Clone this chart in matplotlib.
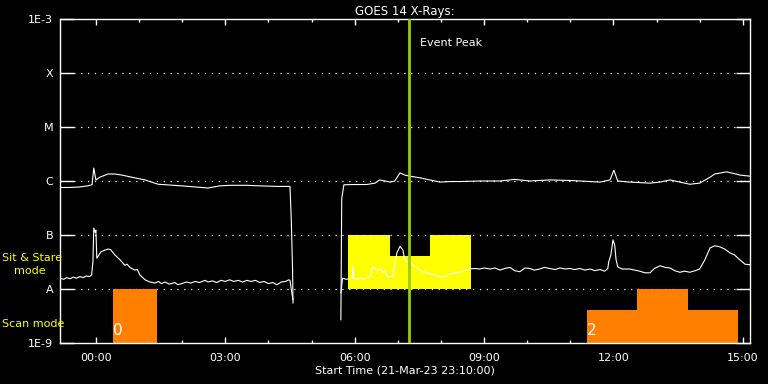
import numpy as np
import matplotlib.pyplot as plt

# hours since 00:00 (start is 23:10 the day before), log10 flux W/m^2
t_long = [-0.83, -0.6, -0.37, -0.19, -0.09, -0.05, 0.0, 0.09, 0.28, 0.44, 0.6, 0.83, 1.14, 1.44,
          1.99, 2.3, 2.6, 2.87, 3.11, 3.5, 3.8, 4.2, 4.5, 4.53, 4.56, 4.57,
          np.nan,
          5.68, 5.70, 5.75, 6.0, 6.28, 6.47, 6.58, 6.82, 6.93, 7.05, 7.16, 7.28, 7.51, 7.74,
          7.98, 8.21, 8.44, 8.9, 9.37, 9.71, 10.06, 10.53, 10.99, 11.69, 11.92, 12.01, 12.10,
          12.38, 12.85, 13.08, 13.31, 13.54, 13.77, 14.0, 14.24, 14.35, 14.63, 14.93, 15.16]
f_long = [-6.12, -6.12, -6.11, -6.09, -6.07, -5.76, -5.98, -5.93, -5.87, -5.87, -5.89, -5.93, -5.98, -6.06,
          -6.09, -6.11, -6.13, -6.09, -6.08, -6.08, -6.09, -6.10, -6.10, -6.72, -7.65, -8.26,
          np.nan,
          -8.57, -6.32, -6.07, -6.065, -6.065, -6.04, -5.98, -6.02, -6.0, -5.85, -5.89, -5.91, -5.94, -5.98,
          -6.02, -6.01, -6.01, -6.0, -6.0, -5.97, -6.0, -5.98, -5.99, -6.02, -5.98, -5.80, -6.0,
          -6.02, -6.04, -6.02, -5.98, -6.02, -6.06, -6.04, -5.93, -5.87, -5.83, -5.89, -5.91]

t_short = [-0.83, -0.75, -0.68, -0.6, -0.52, -0.45, -0.37, -0.3, -0.22, -0.15, -0.1, -0.07, -0.05, -0.02,
           0.0, 0.02, 0.06, 0.12, 0.21, 0.28, 0.34, 0.44, 0.56, 0.67, 0.72, 0.79, 0.9, 0.96, 1.02,
           1.14, 1.25, 1.37, 1.45, 1.52, 1.6, 1.7, 1.83, 1.9, 1.99, 2.1, 2.2, 2.3, 2.4, 2.53, 2.6,
           2.7, 2.8, 2.9, 3.0, 3.1, 3.2, 3.3, 3.4, 3.5, 3.6, 3.7, 3.8, 3.9, 4.0, 4.1, 4.2, 4.3, 4.4,
           4.47, 4.5, 4.54, 4.57,
           np.nan,
           5.68, 5.72, 5.8, 5.89, 5.94, 5.96, 5.98, 6.05, 6.12, 6.2, 6.28, 6.35, 6.42, 6.5, 6.54,
           6.6, 6.65, 6.7, 6.77, 6.85, 6.89, 6.95, 6.98, 7.05, 7.12, 7.16, 7.22, 7.28, 7.34, 7.40,
           7.51, 7.62, 7.74, 7.86, 7.98, 8.1, 8.21, 8.33, 8.44, 8.55, 8.67, 8.78, 8.9, 9.0, 9.14,
           9.25, 9.37, 9.48, 9.6, 9.71, 9.83, 9.95, 10.06, 10.17, 10.29, 10.4, 10.53, 10.65, 10.76,
           10.88, 10.99, 11.1, 11.22, 11.34, 11.46, 11.57, 11.69, 11.8, 11.87, 11.89, 11.94, 11.99,
           12.03, 12.06, 12.10, 12.2, 12.38, 12.5, 12.61, 12.73, 12.85, 12.95, 13.08, 13.2, 13.31,
           13.42, 13.54, 13.65, 13.77, 13.9, 14.0, 14.12, 14.24, 14.35, 14.47, 14.58, 14.7, 14.81,
           14.93, 15.05, 15.16]
f_short = [-7.80, -7.82, -7.79, -7.81, -7.78, -7.80, -7.77, -7.79, -7.76, -7.77, -7.74, -7.50, -6.87, -6.95,
           -6.91, -7.43, -7.38, -7.31, -7.28, -7.26, -7.27, -7.37, -7.46, -7.56, -7.54, -7.60, -7.65, -7.64, -7.74,
           -7.83, -7.87, -7.89, -7.86, -7.90, -7.87, -7.91, -7.88, -7.92, -7.90, -7.87, -7.89, -7.86, -7.88, -7.84, -7.87,
           -7.85, -7.88, -7.84, -7.86, -7.83, -7.86, -7.84, -7.87, -7.84, -7.86, -7.84, -7.88, -7.86, -7.90, -7.88, -7.92, -7.87, -7.86,
           -7.83, -7.84, -8.06, -8.20,
           np.nan,
           -8.07, -7.80, -7.82, -7.81, -7.80, -7.59, -7.81, -7.82, -7.80, -7.82, -7.80, -7.79, -7.59, -7.64, -7.66,
           -7.63, -7.69, -7.67, -7.78, -7.77, -7.76, -7.45, -7.33, -7.21, -7.28, -7.46, -7.50, -7.47, -7.55, -7.58,
           -7.65, -7.69, -7.72, -7.74, -7.78, -7.77, -7.72, -7.70, -7.69, -7.66, -7.63, -7.62, -7.63, -7.61, -7.63,
           -7.61, -7.65, -7.62, -7.60, -7.66, -7.68, -7.61, -7.62, -7.65, -7.63, -7.60, -7.62, -7.64, -7.61,
           -7.63, -7.62, -7.64, -7.62, -7.65, -7.63, -7.66, -7.64, -7.67, -7.62, -7.50, -7.37, -7.09,
           -7.19, -7.45, -7.59, -7.63, -7.63, -7.65, -7.67, -7.70, -7.70, -7.62, -7.57, -7.60, -7.61,
           -7.66, -7.69, -7.67, -7.69, -7.66, -7.63, -7.46, -7.24, -7.20, -7.22, -7.26, -7.33, -7.37,
           -7.46, -7.54, -7.55]

# observing modes (edges in hours, top in log10 flux)
stare_edges = [5.84, 6.82, 7.74, 8.69]
stare_top = [-7.0, -7.39, -7.0]
scan_groups = [([0.39, 1.41], [-8.0], '0'),
               ([11.38, 12.54, 13.73, 14.88], [-8.39, -8.0, -8.39], '2')]

event_peak = 7.26
t_start, t_end = -0.833, 15.167
level_vals = [-9, -8, -7, -6, -5, -4, -3]
level_names = ['1E-9', 'A', 'B', 'C', 'M', 'X', '1E-3']
hour_ticks = [0, 3, 6, 9, 12, 15]
hour_labels = ['00:00', '03:00', '06:00', '09:00', '12:00', '15:00']

fig = plt.figure(figsize=(7.68, 3.84), dpi=100, facecolor='black')
ax = fig.add_axes([60/768, 41/384, 690/768, 324/384], facecolor='black')
ax.set_yscale('log')

# dotted class levels
for v in level_vals[1:-1]:
    ax.axhline(10.0**v, color='white', lw=0.9, ls=(0, (1, 4.5)), zorder=1)

e = np.array(stare_edges)
ax.bar(e[:-1], 10.0**np.array(stare_top) - 1e-8, width=np.diff(e), bottom=1e-8,
       align='edge', color='#ffff00', lw=0, zorder=2)
for edges, tops, lab in scan_groups:
    e = np.array(edges)
    ax.bar(e[:-1], 10.0**np.array(tops) - 1e-9, width=np.diff(e), bottom=1e-9,
           align='edge', color='#ff8000', lw=0, zorder=2)
    ax.text(e[0], 1.25e-9, lab, color='white', fontsize=11, ha='left', va='bottom', zorder=5)

ax.plot(t_long, 10.0**np.array(f_long), color='white', lw=0.8, zorder=3)
ax.plot(t_short, 10.0**np.array(f_short), color='white', lw=0.8, zorder=3)

ax.axvline(event_peak, color='#99cc00', lw=2, zorder=4)
ax.text(event_peak + 0.25, 10**-3.45, 'Event Peak', color='white', fontsize=8, va='center')

ax.set_xlim(t_start, t_end)
ax.set_ylim(1e-9, 1e-3)
ax.set_yticks([10.0**v for v in level_vals])
ax.set_yticklabels(level_names)
ax.minorticks_off()
ax.set_xticks(hour_ticks)
ax.set_xticklabels(hour_labels)
ax.set_xticks(np.arange(0, 16), minor=True)
ax.tick_params(axis='y', which='both', direction='in', length=10, width=1, color='white',
               labelcolor='white', labelsize=8, left=True, right=True, pad=5)
ax.tick_params(axis='y', which='minor', length=0)
ax.tick_params(axis='x', which='major', direction='in', length=4.5, width=1, color='white',
               labelcolor='white', labelsize=8, top=True, bottom=True, pad=7)
ax.tick_params(axis='x', which='minor', direction='in', length=2.5, width=1, color='white',
               top=True, bottom=True)
for s in ax.spines.values():
    s.set_color('white')
    s.set_linewidth(1)

ax.set_title('GOES 14 X-Rays:', color='white', fontsize=8.5, pad=3)
ax.set_xlabel('Start Time (21-Mar-23 23:10:00)', color='white', fontsize=8, labelpad=2)

fig.text(2/768, 1 - 258/384, 'Sit & Stare', color='#ffff00', fontsize=8, va='center', ha='left')
fig.text(14/768, 1 - 271/384, 'mode', color='#ffff00', fontsize=8, va='center', ha='left')
fig.text(2/768, 1 - 324/384, 'Scan mode', color='#ffff00', fontsize=8, va='center', ha='left')

fig.savefig('out.png', dpi=100, facecolor='black')
